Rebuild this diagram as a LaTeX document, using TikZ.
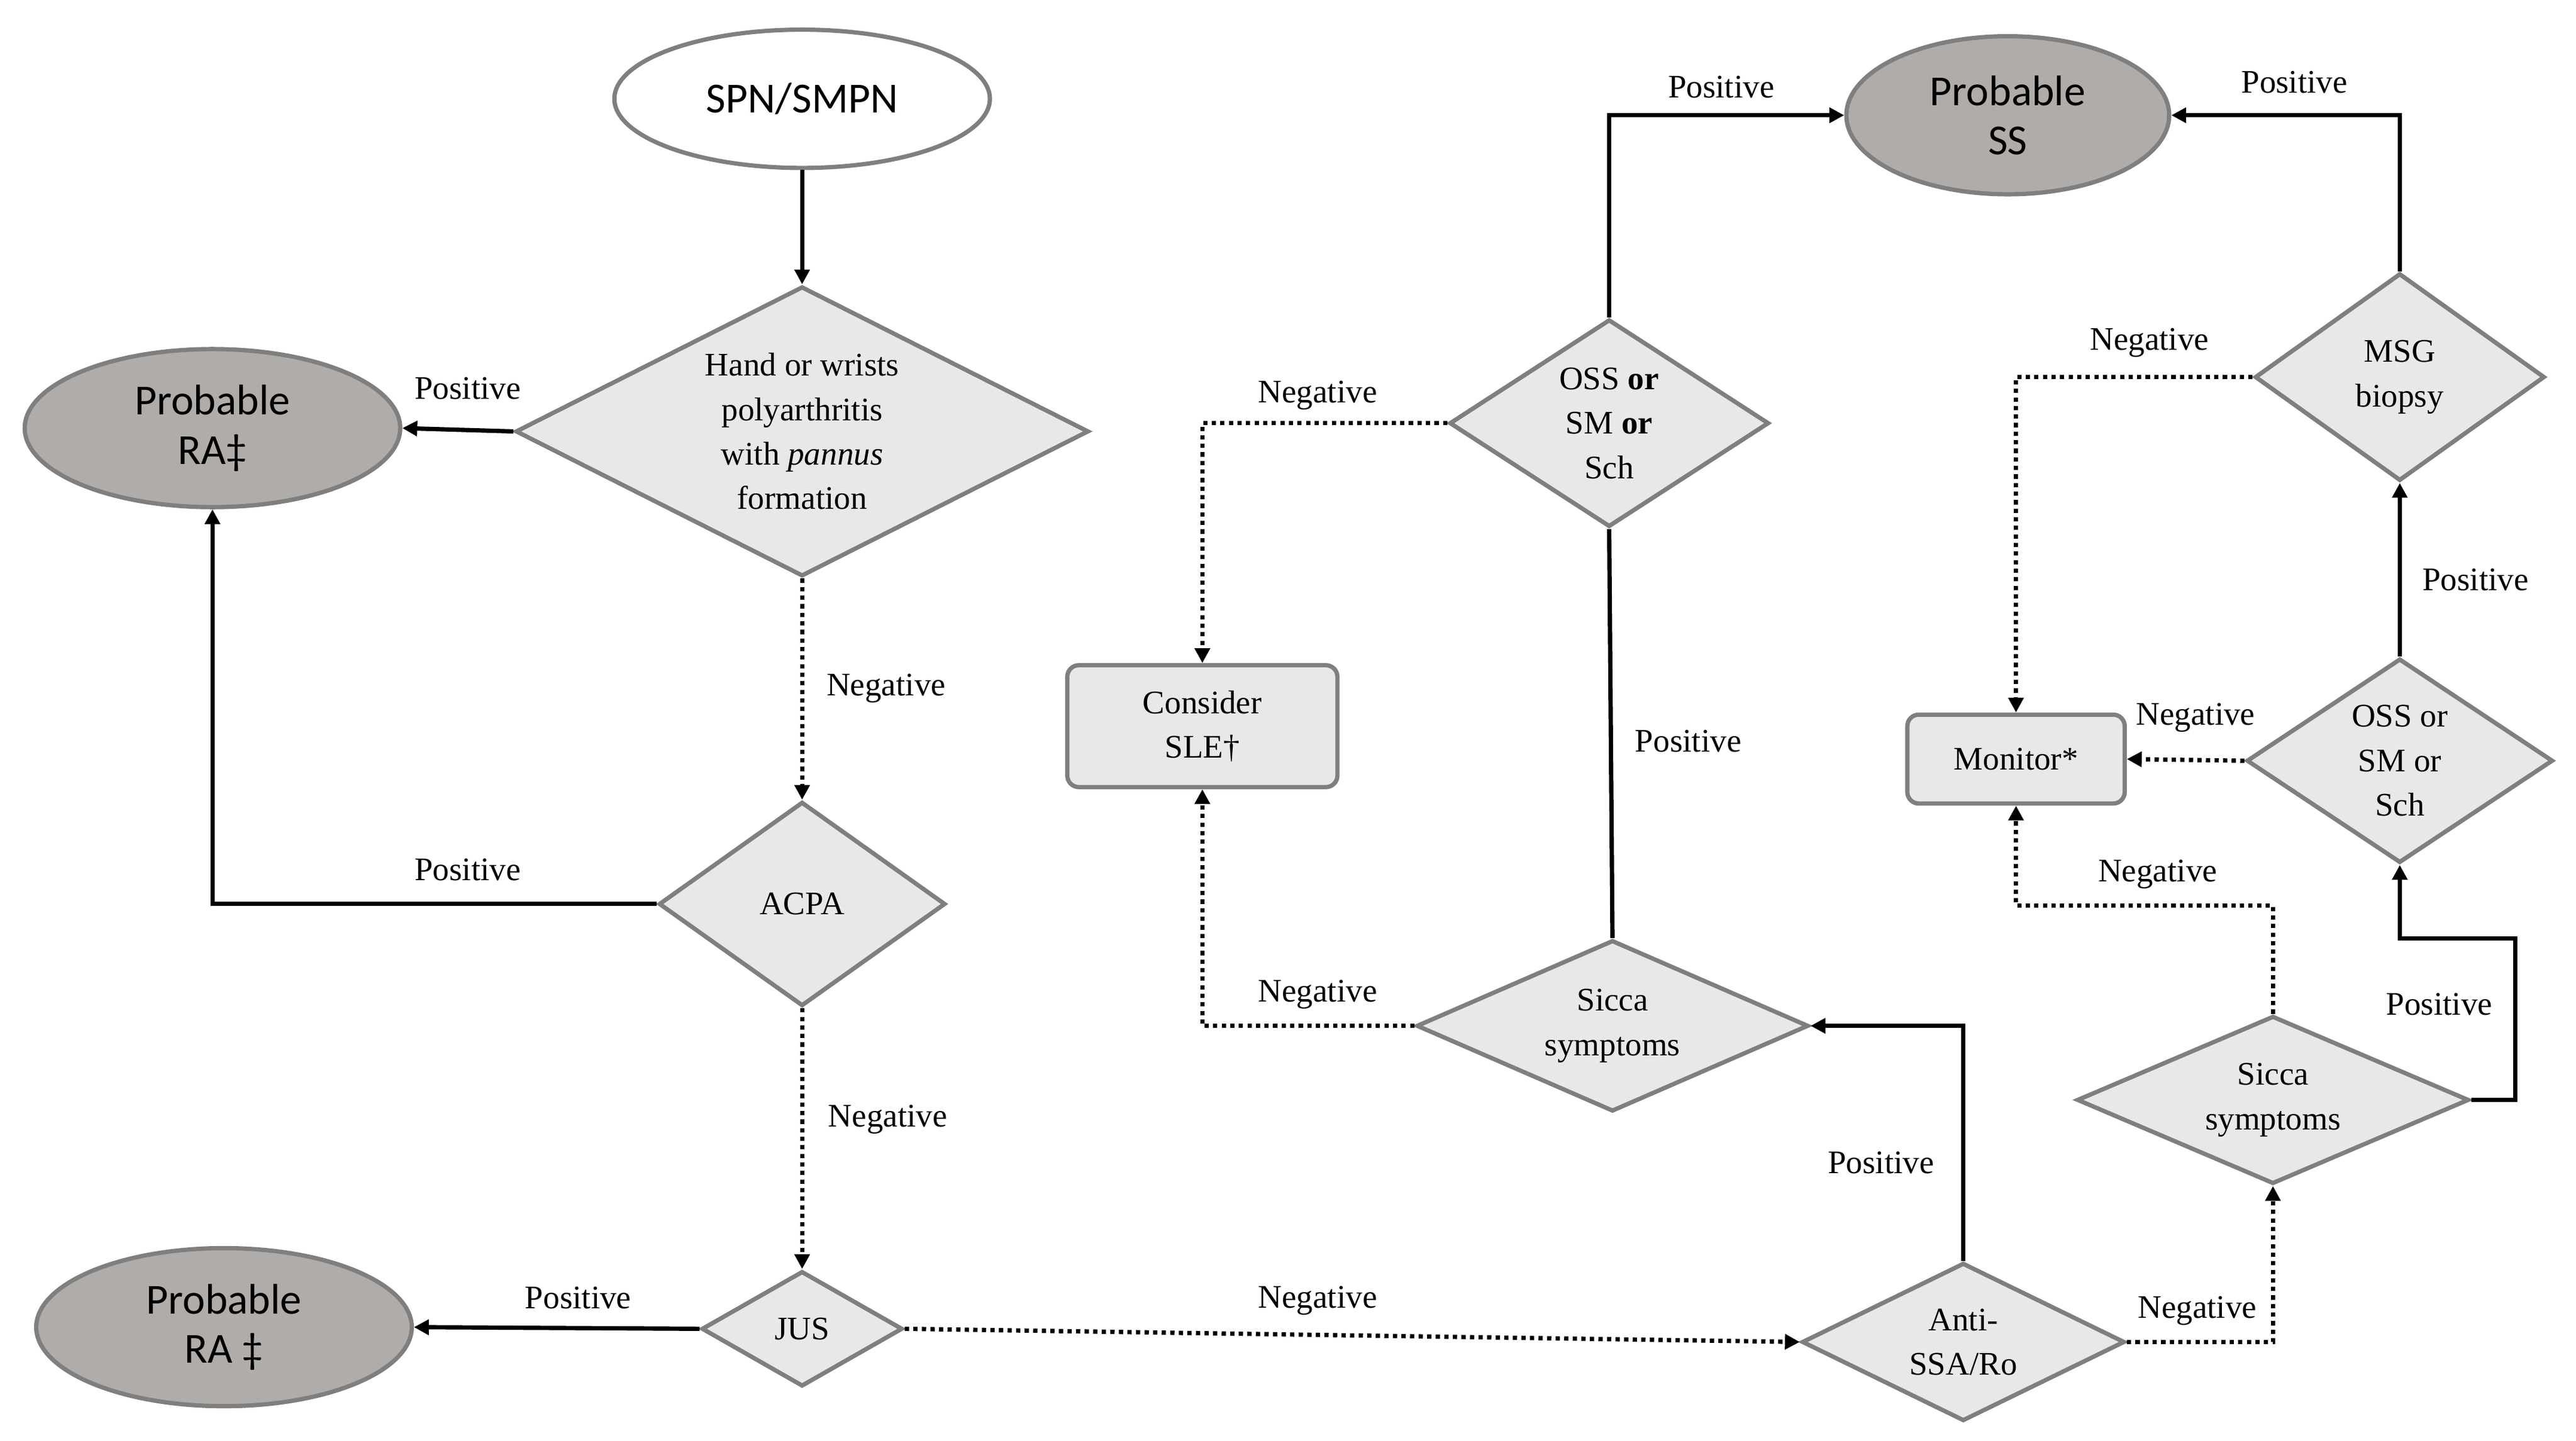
\documentclass[tikz,border=0pt]{standalone}
\usepackage{fontspec}
\setmainfont{Liberation Serif}
\newfontfamily\calfnt{Carlito}
\usetikzlibrary{shapes.geometric,arrows.meta}
\definecolor{dfill}{HTML}{E8E8E8}
\definecolor{bord}{HTML}{7F7F7F}
\definecolor{efill}{HTML}{B0ACA9}
\begin{document}
\begin{tikzpicture}[x=1pt,y=-1pt,
 dia/.style={diamond,draw=bord,fill=dfill,line width=2.6pt,inner sep=0pt,text=black},
 ell/.style={ellipse,draw=bord,line width=2.6pt,inner sep=0pt,align=center,font=\calfnt\fontsize{26}{30}\selectfont},
 box/.style={rectangle,rounded corners=7pt,draw=bord,fill=dfill,line width=2.6pt,align=center,font=\fontsize{20}{27}\selectfont},
 dt/.style={align=center,font=\fontsize{20}{27}\selectfont},
 lab/.style={font=\fontsize{20}{24}\selectfont,inner sep=1pt},
 sol/.style={line width=2.6pt,-{Triangle[length=9pt,width=9pt]}},
 dot/.style={line width=2.6pt,dash pattern=on 2.6pt off 2.6pt,-{Triangle[length=9pt,width=9pt]}}]
\useasboundingbox (0,0) rectangle (1564,875);
\newcommand{\dm}[6]{\node[dia,minimum width=#3,minimum height=#4] (#1) at (#2) {};\node[dt] at (#5) {#6};}
\node[ell,fill=white,minimum width=228,minimum height=84] (spn) at (487,60) {SPN/SMPN};
\dm{d1}{487,262}{348}{176}{487,262}{Hand or wrists\\polyarthritis\\with \textit{pannus}\\formation}
\node[ell,fill=efill,minimum width=228,minimum height=96] (ra1) at (129,260) {Probable\\RA‡};
\dm{acpa}{487,549}{174}{124}{487,549}{ACPA}
\dm{jus}{487,807}{122}{70}{487,807}{JUS}
\node[ell,fill=efill,minimum width=228,minimum height=96] (ra2) at (136,806) {Probable\\RA ‡};
\dm{anti}{1192,815}{196}{96}{1192,815}{Anti-\\SSA/Ro}
\dm{sic1}{979,623}{238}{104}{979,623}{Sicca\\symptoms}
\node[box,minimum width=164,minimum height=74] (sle) at (730,441) {Consider\\SLE†};
\dm{oss1}{977,257}{194}{126}{977,257}{OSS \textbf{or}\\SM \textbf{or}\\Sch}
\node[ell,fill=efill,minimum width=196,minimum height=96] (ss) at (1219,70) {Probable\\SS};
\dm{msg}{1457,229}{176}{126}{1457,229}{MSG\\biopsy}
\dm{oss2}{1457,462}{186}{124}{1457,462}{OSS or\\SM or\\Sch}
\node[box,minimum width=132,minimum height=54] (mon) at (1224,461) {Monitor*};
\dm{sic2}{1380,668}{238}{102}{1380,668}{Sicca\\symptoms}
\draw[sol] (spn) -- (d1);
\draw[sol] (d1.west) -- (ra1.east);
\draw[dot] (d1.south) -- (acpa.north);
\draw[sol] (acpa.west) -| (ra1.south);
\draw[dot] (acpa.south) -- (jus.north);
\draw[sol] (jus.west) -- (ra2.east);
\draw[dot] (jus.east) -- (anti.west);
\draw[sol] (anti.north) |- (sic1.east);
\draw[dot] (anti.east) -| (sic2.south);
\draw[dot] (sic1.west) -| (sle.south);
\draw[line width=2.6pt] (sic1.north) -- (oss1.south);
\draw[dot] (oss1.west) -| (sle.north);
\draw[sol] (oss1.north) |- (ss.west);
\draw[sol] (msg.north) |- (ss.east);
\draw[dot] (msg.west) -| (mon.north);
\draw[sol] (oss2.north) -- (msg.south);
\draw[dot] (oss2.west) -- (mon.east);
\coordinate (c1) at (1380,550);
\draw[dot] (sic2.north) -- (c1) -| (mon.south);
\coordinate (c2) at (1527,570);
\draw[sol] (sic2.east) -| (c2) -| (oss2.south);
\node[lab] at (284,236) {Positive};
\node[lab] at (538,418) {Negative};
\node[lab] at (284,528) {Positive};
\node[lab] at (539,680) {Negative};
\node[lab] at (351,788) {Positive};
\node[lab] at (800,790) {Negative};
\node[lab] at (1142,706) {Positive};
\node[lab] at (1334,796) {Negative};
\node[lab] at (800,604) {Negative};
\node[lab] at (1025,450) {Positive};
\node[lab] at (800,240) {Negative};
\node[lab] at (1045,53) {Positive};
\node[lab] at (1393,50) {Positive};
\node[lab] at (1305,208) {Negative};
\node[lab] at (1503,352) {Positive};
\node[lab] at (1333,436) {Negative};
\node[lab] at (1310,531) {Negative};
\node[lab] at (1481,610) {Positive};
\end{tikzpicture}
\end{document}
